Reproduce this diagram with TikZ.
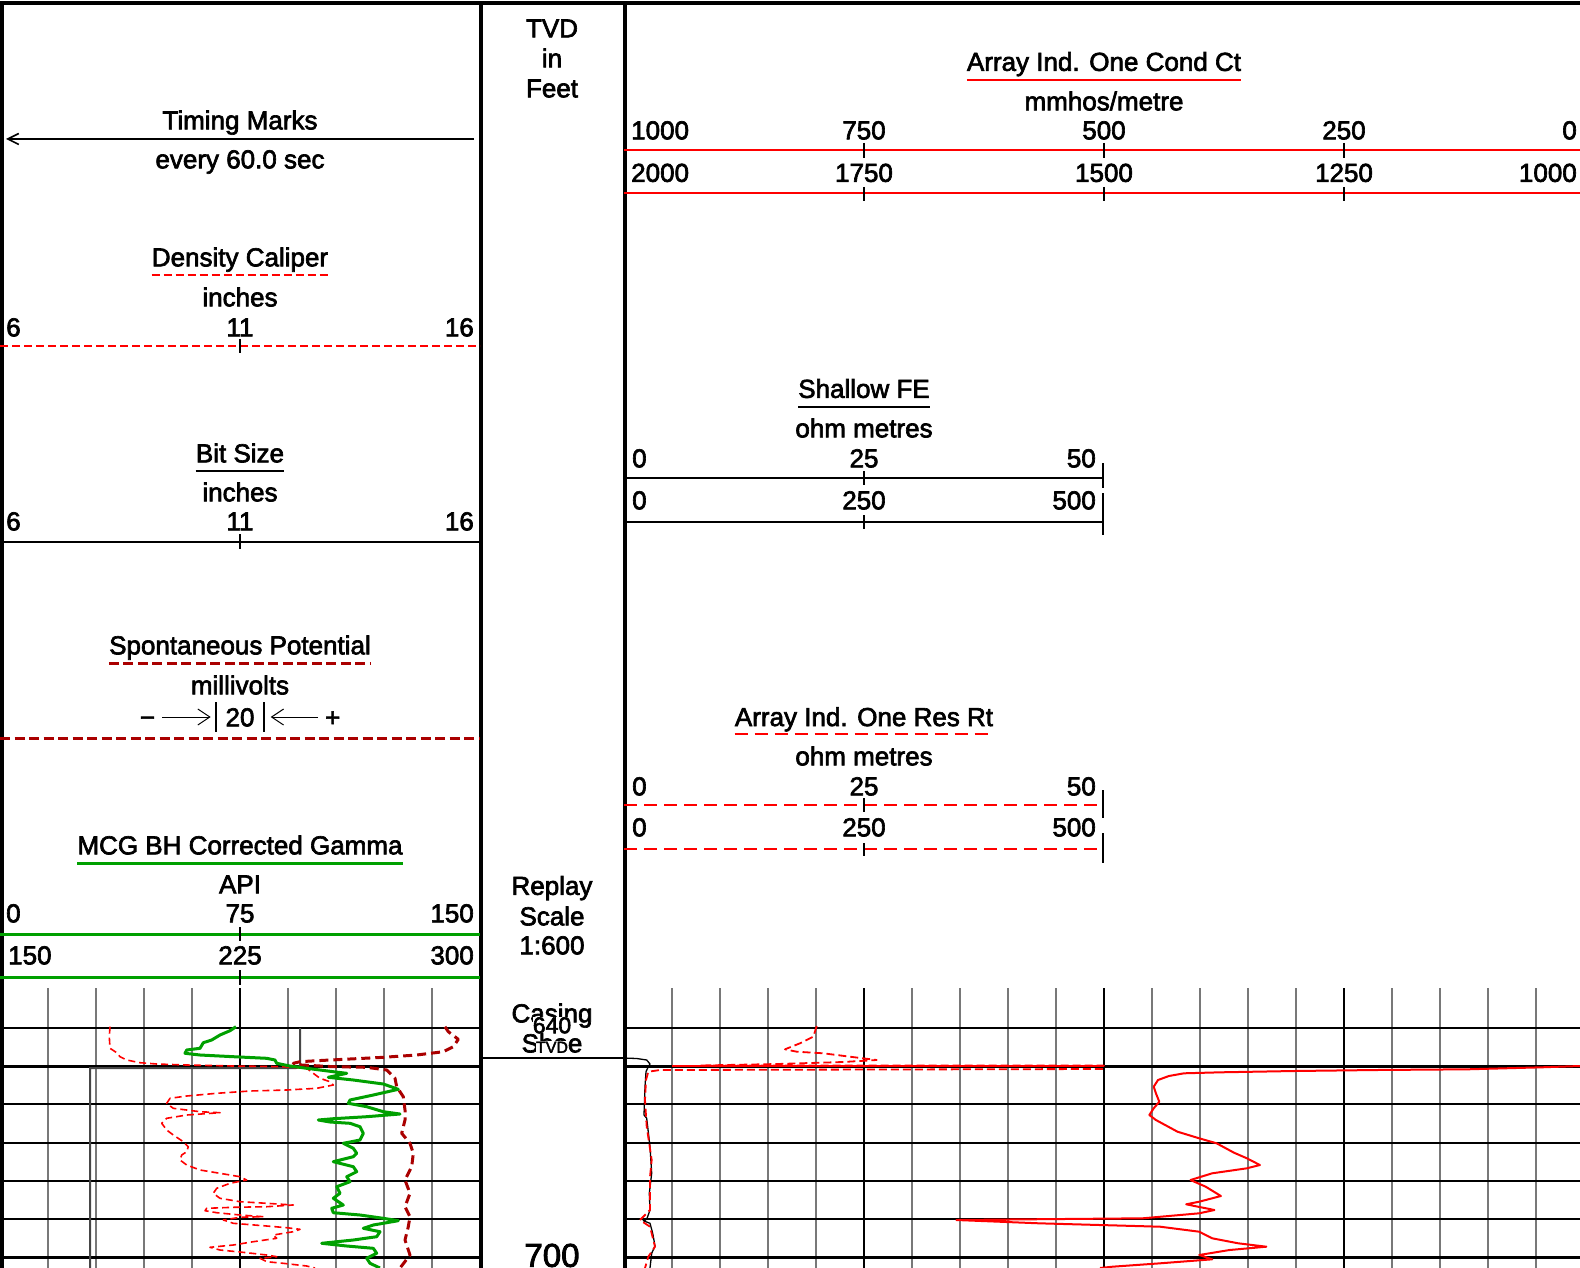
\documentclass[tikz,border=0pt]{standalone}
\usepackage{fontspec}
\setmainfont{Liberation Sans}[FakeBold=2.5]
\usepackage{tikz}
\usetikzlibrary{arrows.meta}
\definecolor{spred}{RGB}{170,0,0}
\definecolor{gammagreen}{RGB}{0,160,0}
\definecolor{gridgray}{RGB}{120,120,120}
\tikzstyle{trackedge} = [line width=4pt]
\tikzstyle{scaletick} = [line width=1.6pt]
\tikzstyle{scalearrow} = [line width=1pt,-{Straight Barb[length=12pt,width=16pt]}]

\begin{document}
\begin{tikzpicture}[x=1pt,y=-1pt,
	lbl/.style={inner sep=0pt, font=\fontsize{26}{30}\selectfont, text height=18.7pt, text depth=0pt},
	uline/.style={line width=2pt},
	caldash/.style={red, line width=2pt, dash pattern=on 8pt off 4pt},
	spdash/.style={spred, line width=3pt, dash pattern=on 10pt off 4.5pt},
	resdash/.style={red, line width=2pt, dash pattern=on 13pt off 7pt},
	minorgrid/.style={gridgray, line width=1.3pt},
	majorgrid/.style={black, line width=2.5pt},
	hgrid/.style={black, line width=2pt}]
	\useasboundingbox (0,0) rectangle (1580,1268);
	
	% GRID
	\foreach \x in {48,96,...,432} \draw[minorgrid] (\x,988) -- (\x,1268);
	\foreach \x in {672,720,...,1536} \draw[minorgrid] (\x,988) -- (\x,1268);
	\foreach \x in {240,864,1104,1344} \draw[majorgrid] (\x,988) -- (\x,1268);
	\foreach \y in {1027.7,1104.2,1142.5,1180.8,1219} {
		\draw[hgrid] (0,\y) -- (480,\y);
		\draw[hgrid] (624,\y) -- (1580,\y);
	}
	\foreach \y in {1066,1257.3} {
		\draw[hgrid, line width=3pt] (0,\y) -- (480,\y);
		\draw[hgrid, line width=3pt] (624,\y) -- (1580,\y);
	}
	
	% TRACK 1 CURVES
	\draw[gray!55!black, line width=2pt] (300,1028) -- (300,1066) -- (296,1068) -- (90,1068) -- (90,1268);
	\draw[red, line width=1.6pt, dash pattern=on 7pt off 4pt, line join=round] plot coordinates {
		(110,1026.7) (109.3,1036.7) (110,1048.3) (116.7,1052.7) (120,1056.7) (126.7,1060) (140,1062.7)
		(156.7,1064) (186.7,1065) (233.3,1066) (283.3,1066.7) (306.7,1068.3) (313.3,1073.3) (320,1078.3)
		(330,1081.7) (333.3,1085) (316.7,1088.3) (286.7,1090) (250,1091) (216.7,1093.3) (186.7,1096)
		(170,1098.3) (166.7,1103.3) (173.3,1108.3) (200,1111.7) (220,1112.7) (186.7,1115) (166.7,1118.3)
		(161.7,1123.3) (166.7,1130) (173.3,1135) (183.3,1141.7) (188.3,1146.7) (186.7,1151.7) (181.7,1155)
		(180,1160) (186.7,1165) (200,1170) (220,1173.3) (240,1176.7) (246.7,1180) (230,1183.3)
		(216.7,1188.3) (213.3,1193.3) (220,1198.3) (240,1201.7) (266.7,1203.3) (293.3,1205) (266.7,1206.7)
		(233.3,1207.3) (206.7,1208.3) (205,1210.7) (216.7,1212.7) (240,1215) (263.3,1216.7) (240,1217.3)
		(223.3,1220) (233.3,1223.3) (266.7,1226) (286.7,1227.7) (300,1229.3) (293.3,1231.7) (273.3,1235)
		(276.7,1238.3) (253.3,1241.7) (233.3,1245) (210,1247.3) (220,1250) (246.7,1252.7) (266.7,1255)
		(276.7,1256.7) (260,1258.3) (266.7,1261.7) (283.3,1263.3) (306.7,1266) (315,1268)};
	\draw[spred, line width=3pt, dash pattern=on 9pt off 5pt, line join=round] plot coordinates {
		(445,1026.7) (448.3,1031.7) (458.3,1039.3) (453.3,1046.7) (443.3,1051.7) (416.7,1055) (383.3,1057.3)
		(350,1059) (316.7,1060.7) (300,1061.7) (293.3,1063.3) (301.7,1065) (333.3,1066.7) (366.7,1067.3)
		(386.7,1070) (395,1078.3) (396.7,1086.7) (403.3,1096.7) (405,1110) (405,1120) (401.7,1133.3)
		(410,1143.3) (413.3,1153.3) (411.7,1166.7) (405,1180) (410,1193.3) (405,1206.7) (410,1216.7)
		(408.3,1226.7) (405,1240) (410,1255) (400,1268)};
	\draw[gammagreen, line width=3pt, line join=round] plot coordinates {
		(236,1026.7) (230,1030.7) (220,1035) (211.7,1040) (203.3,1042.7) (200,1048.3) (186.7,1050)
		(185,1053.3) (200,1055) (233.3,1056.7) (266.7,1058.3) (275,1060) (276.7,1063.3) (290,1066)
		(306.7,1068.3) (333.3,1071.7) (346.7,1073.3) (328.3,1077.3) (353.3,1080) (383.3,1084) (398.3,1089.3)
		(373.3,1095) (350,1100) (348.3,1103.3) (366.7,1106.7) (383.3,1111.7) (400,1114) (366.7,1116.7)
		(333.3,1118.7) (318.3,1120) (330,1122) (350,1123.3) (360,1126.7) (363.3,1133.3) (360,1140)
		(343.3,1143.3) (353.3,1148.3) (356.7,1153.3) (353.3,1156.7) (333.3,1161.7) (353.3,1166.7)
		(356.7,1171.7) (346.7,1176.7) (350,1181.7) (336.7,1186.7) (340,1193.3) (333.3,1198.3) (343.3,1205)
		(331.7,1208.3) (333.3,1212.7) (360,1215) (383.3,1218.3) (398.3,1220.7) (373.3,1225) (363.3,1228.3)
		(380,1231.7) (376.7,1236.7) (353.3,1240) (321.7,1243.3) (346.7,1246) (373.3,1248.3) (376.7,1253.3)
		(366.7,1258.3) (370,1263.3) (380,1268)};
	
	% TRACK 3 CURVES
	\draw[black, line width=1.3pt, line join=round] plot coordinates {
		(482,1058) (623.3,1058) (636.7,1058.5) (646.7,1060) (650,1064) (648.3,1066.7) (646,1071.7)
		(645,1086.7) (644,1115) (646.7,1118.3) (650,1146.7) (651.7,1173.3) (649.3,1193.3) (650,1210)
		(646.7,1219.3) (643.3,1220.7) (650,1223.3) (652.7,1233.3) (655,1246) (651.7,1253.3) (650,1268)};
	\draw[red, line width=1.8pt, dash pattern=on 8pt off 4pt, line join=round] plot coordinates {
		(816.7,1026) (813.3,1036.7) (800,1043.3) (785,1049.3) (796.7,1051.7) (823.3,1053.3) (850,1056.7)
		(876.7,1060) (843,1062) (777,1064) (700,1065.5) (1104,1065.5) (1104,1069) (660,1070)
		(648.3,1071.7) (646,1080) (645,1100) (646.7,1126.7) (651.7,1160) (650,1176.7) (650,1210)
		(640,1220) (650,1226.7) (653.3,1240) (655,1246.7) (648.3,1256.7) (645,1268)};
	\draw[red, line width=2pt] (672,1066) -- (1104,1066);
	\draw[red, line width=2pt, line join=round] plot coordinates {
		(1580,1066) (1541.8,1067.3) (1468,1069.3) (1377,1070) (1294.6,1071) (1221,1072.3) (1184,1073.3)
		(1168.9,1076) (1158,1080) (1153.7,1086.7) (1155.9,1093.3) (1159.3,1101.7) (1153.7,1108.3)
		(1149.3,1115) (1155.9,1120) (1177.5,1131.7) (1199.2,1138.3) (1216.6,1143.3) (1234,1152.7)
		(1246.9,1158.3) (1259.9,1165) (1246.9,1168.3) (1212.2,1173.3) (1190.5,1180) (1205.7,1186.7)
		(1220.9,1196) (1199.2,1201.7) (1186.2,1204.3) (1214.4,1210) (1199.2,1213.3) (1142.8,1218.3)
		(1030,1219.3) (956.4,1220) (1038.8,1223.3) (1160.2,1226.7) (1199.2,1231.7) (1212.2,1238.3)
		(1238.2,1243.3) (1266.4,1246.7) (1229.6,1250) (1199.2,1255) (1212.2,1259.3) (1160.2,1263.3)
		(1112.5,1266.7) (1100,1268)};
	
	% TRACK EDGES
	\draw[trackedge] (0,3.5) -- (1580,3.5);
	\draw[trackedge, line width=3.5pt] (2,3.5) -- (2,1268);
	\draw[trackedge] (480.5,3.5) -- (480.5,1268);
	\draw[trackedge] (624.5,3.5) -- (624.5,1268);
	
	% TRACK 1 HEADERS
	\node[lbl] (timingtitle) at (240,120) {Timing Marks};
	\coordinate (timingright) at (474,139);
	\coordinate (timingleft) at (6,139);
	\draw[line width=1.6pt, -{Straight Barb[length=11pt,width=11pt]}] (timingright) -- (timingleft);
	\node[lbl] (timingunit) at (240,159) {every 60.0 sec};
	
	\node[lbl] (caltitle) at (240,257) {Density Caliper};
	\draw[caldash] ([yshift=-8.5pt]caltitle.south west) -- ([yshift=-8.5pt]caltitle.south east);
	\node[lbl] (calunit) at (240,297) {inches};
	\node[lbl, anchor=west] (calmin) at (6,327) {6};
	\node[lbl] (calmid) at (240,327) {11};
	\node[lbl, anchor=east] (calmax) at (474,327) {16};
	\draw[caldash] (0,346) -- (480,346);
	\draw[scaletick] (240,339) -- (240,353);
	
	\node[lbl] (bittitle) at (240,453) {Bit Size};
	\draw[uline] ([yshift=-8pt]bittitle.south west) -- ([yshift=-8pt]bittitle.south east);
	\node[lbl] (bitunit) at (240,492) {inches};
	\node[lbl, anchor=west] (bitmin) at (6,521) {6};
	\node[lbl] (bitmid) at (240,521) {11};
	\node[lbl, anchor=east] (bitmax) at (474,521) {16};
	\draw[line width=2pt] (0,541.5) -- (480,541.5);
	\draw[scaletick] (240,534) -- (240,549);
	
	\node[lbl] (sptitle) at (240,645) {Spontaneous Potential};
	\draw[spdash] ([yshift=-9pt]sptitle.south west) -- ([yshift=-9pt]sptitle.south east);
	\node[lbl] (spunit) at (240,685) {millivolts};
	\node[lbl] (spminus) at (147.5,717) {−};
	\draw[scalearrow] (162,717) -- (210.7,717);
	\draw[line width=2pt] (216,702) -- (216,732);
	\node[lbl] (spstep) at (240,717) {20};
	\draw[line width=2pt] (264,702) -- (264,732);
	\draw[scalearrow] (318,717) -- (270.7,717);
	\node[lbl] (spplus) at (332.7,717) {+};
	\draw[spdash] (0,738) -- (480,738);
	
	\node[lbl] (grtitle) at (240,845) {MCG BH Corrected Gamma};
	\draw[gammagreen, line width=3pt] ([yshift=-9pt]grtitle.south west) -- ([yshift=-9pt]grtitle.south east);
	\node[lbl] (grunit) at (240,884) {API};
	\node[lbl, anchor=west] (grmin) at (6,913) {0};
	\node[lbl] (grmid) at (240,913) {75};
	\node[lbl, anchor=east] (grmax) at (474,913) {150};
	\draw[gammagreen, line width=3pt] (0,934) -- (480,934);
	\draw[scaletick] (240,927) -- (240,941);
	\node[lbl, anchor=west] (grminb) at (8,955) {150};
	\node[lbl] (grmidb) at (240,955) {225};
	\node[lbl, anchor=east] (grmaxb) at (474,955) {300};
	\draw[gammagreen, line width=3pt] (0,977.5) -- (480,977.5);
	\draw[scaletick] (240,970) -- (240,985);
	
	% DEPTH TRACK
	\node[lbl] (tvd) at (552,28) {TVD};
	\node[lbl] (tvdin) at (552,58) {in};
	\node[lbl] (tvdfeet) at (552,88) {Feet};
	\node[lbl] (replay) at (552,885.5) {Replay};
	\node[lbl] (replayscale) at (552,916) {Scale};
	\node[lbl] (replayratio) at (552,945) {1:600};
	\node[lbl] (casing) at (552,1013) {Casing};
	\node[lbl] (shoe) at (552,1043) {Shoe};
	\node[lbl, fill=white, font=\fontsize{23}{27}\selectfont, text height=16.5pt] (shoedepth) at (552,1025) {640};
	\node[lbl, fill=white, font=\fontsize{16}{19}\selectfont, text height=11.5pt] (shoetvd) at (552,1047) {TVD};
	\draw[line width=2pt] (482,1058) -- (623,1058);
	\node[lbl, font=\fontsize{33}{38}\selectfont, text height=23.6pt] (depth700) at (552,1255) {700};
	
	% TRACK 3 HEADERS
	\node[lbl] (condtitle) at (1104,61.5) {Array Ind. One Cond Ct};
	\draw[red, uline] ([yshift=-8.8pt]condtitle.south west) -- ([yshift=-8.8pt]condtitle.south east);
	\node[lbl] (condunit) at (1104,101) {mmhos/metre};
	\node[lbl, anchor=west] (conda) at (631,130) {1000};
	\node[lbl] (condb) at (864,130) {750};
	\node[lbl] (condc) at (1104,130) {500};
	\node[lbl] (condd) at (1344,130) {250};
	\node[lbl, anchor=east] (conde) at (1577,130) {0};
	\draw[red, line width=2pt] (624,150) -- (1580,150);
	\foreach \x in {864,1104,1344} \draw[scaletick] (\x,143) -- (\x,158);
	\node[lbl, anchor=west] (condwa) at (631,172.5) {2000};
	\node[lbl] (condwb) at (864,172.5) {1750};
	\node[lbl] (condwc) at (1104,172.5) {1500};
	\node[lbl] (condwd) at (1344,172.5) {1250};
	\node[lbl, anchor=east] (condwe) at (1577,172.5) {1000};
	\draw[red, line width=2pt] (624,193.5) -- (1580,193.5);
	\foreach \x in {864,1104,1344} \draw[scaletick] (\x,187) -- (\x,201);
	
	\node[lbl] (fetitle) at (864,388.5) {Shallow FE};
	\draw[uline] ([yshift=-8.7pt]fetitle.south west) -- ([yshift=-8.7pt]fetitle.south east);
	\node[lbl] (feunit) at (864,428) {ohm metres};
	\node[lbl, anchor=west] (femin) at (632,458) {0};
	\node[lbl] (femid) at (864,458) {25};
	\node[lbl, anchor=east] (femax) at (1096,458) {50};
	\draw[line width=2pt] (624,477.5) -- (1104,477.5);
	\draw[scaletick] (864,471) -- (864,485);
	\draw[scaletick] (1103,463) -- (1103,488);
	\node[lbl, anchor=west] (feminb) at (632,500) {0};
	\node[lbl] (femidb) at (864,500) {250};
	\node[lbl, anchor=east] (femaxb) at (1096,500) {500};
	\draw[line width=2pt] (624,522.3) -- (1104,522.3);
	\draw[scaletick] (864,515) -- (864,529);
	\draw[scaletick] (1103,493) -- (1103,535);
	
	\node[lbl] (restitle) at (864,716.7) {Array Ind. One Res Rt};
	\draw[resdash] ([yshift=-7.5pt]restitle.south west) -- ([yshift=-7.5pt]restitle.south east);
	\node[lbl] (resunit) at (864,756) {ohm metres};
	\node[lbl, anchor=west] (resmin) at (632,786) {0};
	\node[lbl] (resmid) at (864,786) {25};
	\node[lbl, anchor=east] (resmax) at (1096,786) {50};
	\draw[resdash] (624,805) -- (1104,805);
	\draw[scaletick] (864,798) -- (864,812);
	\draw[scaletick] (1103,790) -- (1103,818);
	\node[lbl, anchor=west] (resminb) at (632,827) {0};
	\node[lbl] (resmidb) at (864,827) {250};
	\node[lbl, anchor=east] (resmaxb) at (1096,827) {500};
	\draw[resdash] (624,849.3) -- (1104,849.3);
	\draw[scaletick] (864,843) -- (864,856);
	\draw[scaletick] (1103,833) -- (1103,863);
	
\end{tikzpicture}
\end{document}
